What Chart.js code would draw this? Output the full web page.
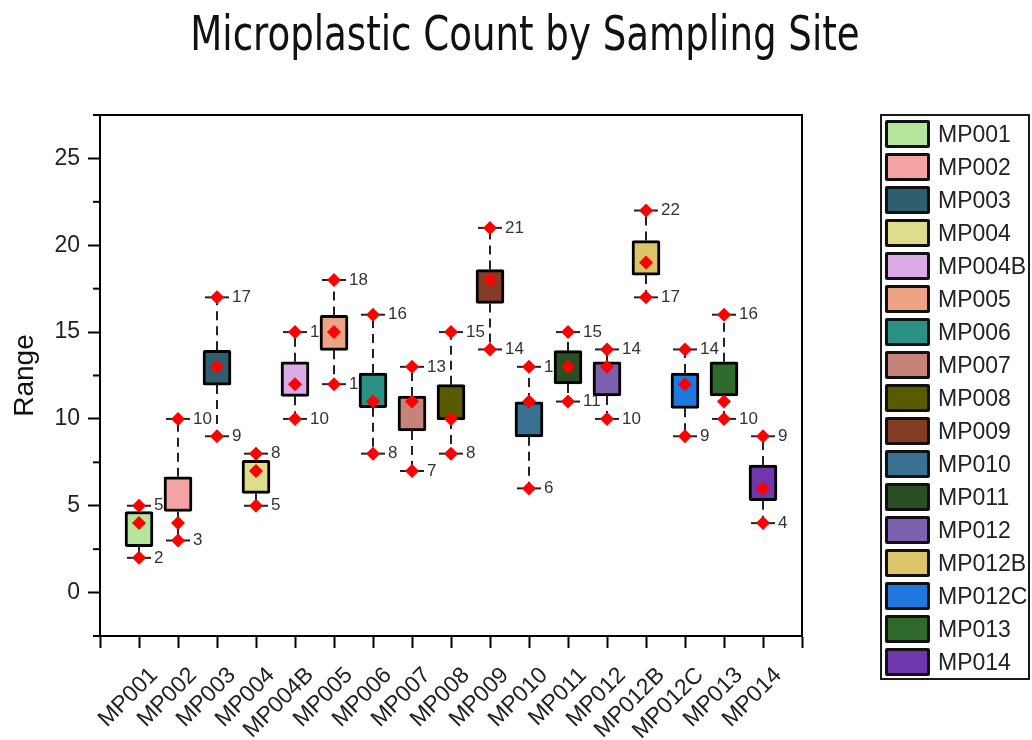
<!DOCTYPE html>
<html>
<head>
<meta charset="utf-8">
<title>Microplastic Count by Sampling Site</title>
<script src="https://cdn.jsdelivr.net/npm/chart.js@4.4.1/dist/chart.umd.min.js"></script>
<style>
    html, body { margin: 0; padding: 0; background: #ffffff; }
    #wrap { position: relative; width: 1032px; height: 740px; }
    #legend {
        position: absolute; left: 880px; top: 114px; width: 150px; height: 566px;
        box-sizing: border-box; border: 2px solid #1a1a1a; padding-top: 4px;
        font-family: 'Liberation Sans', Arial, sans-serif;
    }
    #legend .item { height: 33px; display: flex; align-items: flex-start; }
    #legend .sw { width: 45px; height: 28px; box-sizing: border-box; border: 3px solid #111; border-radius: 2px; margin-left: 3px; }
    #legend .lab { margin-left: 8px; font-size: 23px; line-height: 28px; color: #222; }
</style>
</head>
<body>
<div id="wrap">
    <canvas id="boxChart" width="1032" height="740"></canvas>
    <div id="legend"></div>
</div>
<script>
// Sites and box colours
var sites = ['MP001', 'MP002', 'MP003', 'MP004', 'MP004B', 'MP005', 'MP006', 'MP007', 'MP008',
             'MP009', 'MP010', 'MP011', 'MP012', 'MP012B', 'MP012C', 'MP013', 'MP014'];
var colors = ['#b5e59a', '#f4a3a3', '#2f5f6e', '#dedd8c', '#dcaae6', '#eda384', '#2a9185', '#c7837a', '#5a5a00',
              '#843c24', '#3a7090', '#2a4f24', '#7c62ae', '#dcc468', '#1f78e0', '#2f6a2c', '#7037ac'];

// Values
var minVals  = [2, 3, 9, 5, 10, 12, 8, 7, 8, 14, 6, 11, 10, 17, 9, 10, 4];
var maxVals  = [5, 10, 17, 8, 15, 18, 16, 13, 15, 21, 13, 15, 14, 22, 14, 16, 9];
var meanVals = [4, 4, 13, 7, 12, 15, 11, 11, 10, 18, 11, 13, 13, 19, 12, 11, 6];
var q1Vals   = [2.65, 4.67, 11.95, 5.71, 11.3, 13.95, 10.65, 9.31, 9.94, 16.65, 8.97, 12.01, 11.32, 18.28, 10.61, 11.32, 5.29];
var q3Vals   = [4.67, 6.67, 13.95, 7.62, 13.29, 15.96, 12.64, 11.32, 11.97, 18.6, 10.98, 13.93, 13.29, 20.27, 12.64, 13.29, 7.34];

// Axis settings
var yMin = -2.5, yMax = 27.5, yStep = 2.5, yLabelStep = 5;
var xMin = -1, xMax = 17;
var titleText = 'Microplastic Count by Sampling Site';

var FONT = "'Liberation Sans', Arial, sans-serif";
var CONDENSED = "'DejaVu Sans Condensed', 'Liberation Sans', sans-serif";

// legend (html)
var legendEl = document.getElementById('legend');
sites.forEach(function(s, i) {
    var row = document.createElement('div');
    row.className = 'item';
    var sw = document.createElement('span');
    sw.className = 'sw';
    sw.style.background = colors[i];
    var lab = document.createElement('span');
    lab.className = 'lab';
    lab.textContent = s;
    row.appendChild(sw);
    row.appendChild(lab);
    legendEl.appendChild(row);
});

// data for each layer
var boxData = [], whiskerData = [], extremeData = [], meanData = [];
sites.forEach(function(s, i) {
    boxData.push({ x: i, y: [q1Vals[i], q3Vals[i]] });
    whiskerData.push({ x: i, y: q3Vals[i] }, { x: i, y: maxVals[i] }, { x: i, y: null });
    whiskerData.push({ x: i, y: q1Vals[i] }, { x: i, y: minVals[i] }, { x: i, y: null });
    extremeData.push({ x: i, y: minVals[i] }, { x: i, y: maxVals[i] });
    meanData.push({ x: i, y: meanVals[i] });
});

// value labels next to min / max, drawn under the boxes
var valueLabels = {
    id: 'valueLabels',
    beforeDatasetsDraw: function(chart) {
        var ctx = chart.ctx, xs = chart.scales.x, ys = chart.scales.y;
        ctx.save();
        ctx.font = '17px ' + FONT;
        ctx.fillStyle = '#333';
        ctx.textAlign = 'left';
        ctx.textBaseline = 'middle';
        sites.forEach(function(s, i) {
            var px = xs.getPixelForValue(i) + 15;
            ctx.fillText(String(maxVals[i]), px, ys.getPixelForValue(maxVals[i]));
            ctx.fillText(String(minVals[i]), px, ys.getPixelForValue(minVals[i]));
        });
        ctx.restore();
    }
};

// top/right frame, short minor ticks on y, condensed title
var frame = {
    id: 'frame',
    afterDraw: function(chart) {
        var ctx = chart.ctx, a = chart.chartArea, ys = chart.scales.y;
        ctx.save();
        ctx.strokeStyle = '#000';
        ctx.lineWidth = 2;
        ctx.beginPath();
        ctx.moveTo(a.left - 1, a.top);
        ctx.lineTo(a.right, a.top);
        ctx.lineTo(a.right, a.bottom + 1);
        ctx.stroke();
        ys.ticks.forEach(function(t) {
            if (t.value % yLabelStep !== 0) {
                var py = ys.getPixelForValue(t.value);
                ctx.beginPath();
                ctx.moveTo(a.left - 7, py);
                ctx.lineTo(a.left, py);
                ctx.stroke();
            }
        });
        // title, squeezed a bit to look like the narrow face
        ctx.translate(525, 38);
        ctx.scale(0.86, 1);
        ctx.font = '48px ' + CONDENSED;
        ctx.fillStyle = '#111';
        ctx.textAlign = 'center';
        ctx.textBaseline = 'middle';
        ctx.fillText(titleText, 0, 0);
        ctx.restore();
    }
};

var ctxBox = document.getElementById('boxChart');
var boxChart = new Chart(ctxBox.getContext('2d'), {
    type: 'bar',
    data: {
        datasets: [{
            label: 'box',
            data: boxData,
            backgroundColor: colors,
            borderColor: '#000',
            borderWidth: 3,
            borderSkipped: false,
            borderRadius: 2,
            barThickness: 28,
            order: 3
        }, {
            type: 'line',
            label: 'whisker',
            data: whiskerData,
            borderColor: '#222',
            borderWidth: 2,
            borderDash: [9, 6],
            pointRadius: 0,
            spanGaps: false,
            fill: false,
            order: 4
        }, {
            type: 'scatter',
            label: 'cap',
            data: extremeData,
            pointStyle: 'line',
            pointRadius: 12,
            borderColor: '#222',
            borderWidth: 2,
            order: 2
        }, {
            type: 'scatter',
            label: 'extreme',
            data: extremeData,
            pointStyle: 'rectRot',
            pointRadius: 7,
            backgroundColor: '#ff0000',
            borderWidth: 0,
            order: 1
        }, {
            type: 'scatter',
            label: 'mean',
            data: meanData,
            pointStyle: 'rectRot',
            pointRadius: 7,
            backgroundColor: '#ff0000',
            borderWidth: 0,
            order: 0
        }]
    },
    options: {
        responsive: false,
        animation: false,
        devicePixelRatio: 1,
        layout: { padding: { top: 115, left: 0, right: 230, bottom: 0 } },
        plugins: {
            legend: { display: false },
            tooltip: { enabled: false },
            title: { display: false }
        },
        scales: {
            x: {
                type: 'linear',
                min: xMin,
                max: xMax,
                offset: false,
                ticks: {
                    stepSize: 1,
                    maxTicksLimit: 100,
                    autoSkip: false,
                    minRotation: 45,
                    maxRotation: 45,
                    padding: 14,
                    labelOffset: 15,
                    color: '#222',
                    font: { family: FONT, size: 23 },
                    callback: function(v) { return sites[v] || ''; }
                },
                grid: { drawOnChartArea: false, offset: false, tickLength: 12, tickWidth: 2, tickColor: '#000' },
                border: { color: '#000', width: 2 },
                afterFit: function(s) { s.height = 104; }
            },
            y: {
                type: 'linear',
                min: yMin,
                max: yMax,
                ticks: {
                    stepSize: yStep,
                    maxTicksLimit: 100,
                    color: '#222',
                    padding: 8,
                    font: { family: FONT, size: 23 },
                    callback: function(v) { return v % yLabelStep === 0 ? v : ''; }
                },
                grid: {
                    drawOnChartArea: false, tickLength: 12, tickWidth: 2,
                    tickColor: function(c) { return (c.tick && c.tick.value % yLabelStep === 0) ? '#000' : 'rgba(0,0,0,0)'; }
                },
                border: { color: '#000', width: 2 },
                title: { display: true, text: 'Range', color: '#111', font: { family: FONT, size: 28 }, padding: { top: 8, bottom: 0 } },
                afterFit: function(s) { s.width = 100; }
            }
        }
    },
    plugins: [valueLabels, frame]
});
</script>
</body>
</html>
